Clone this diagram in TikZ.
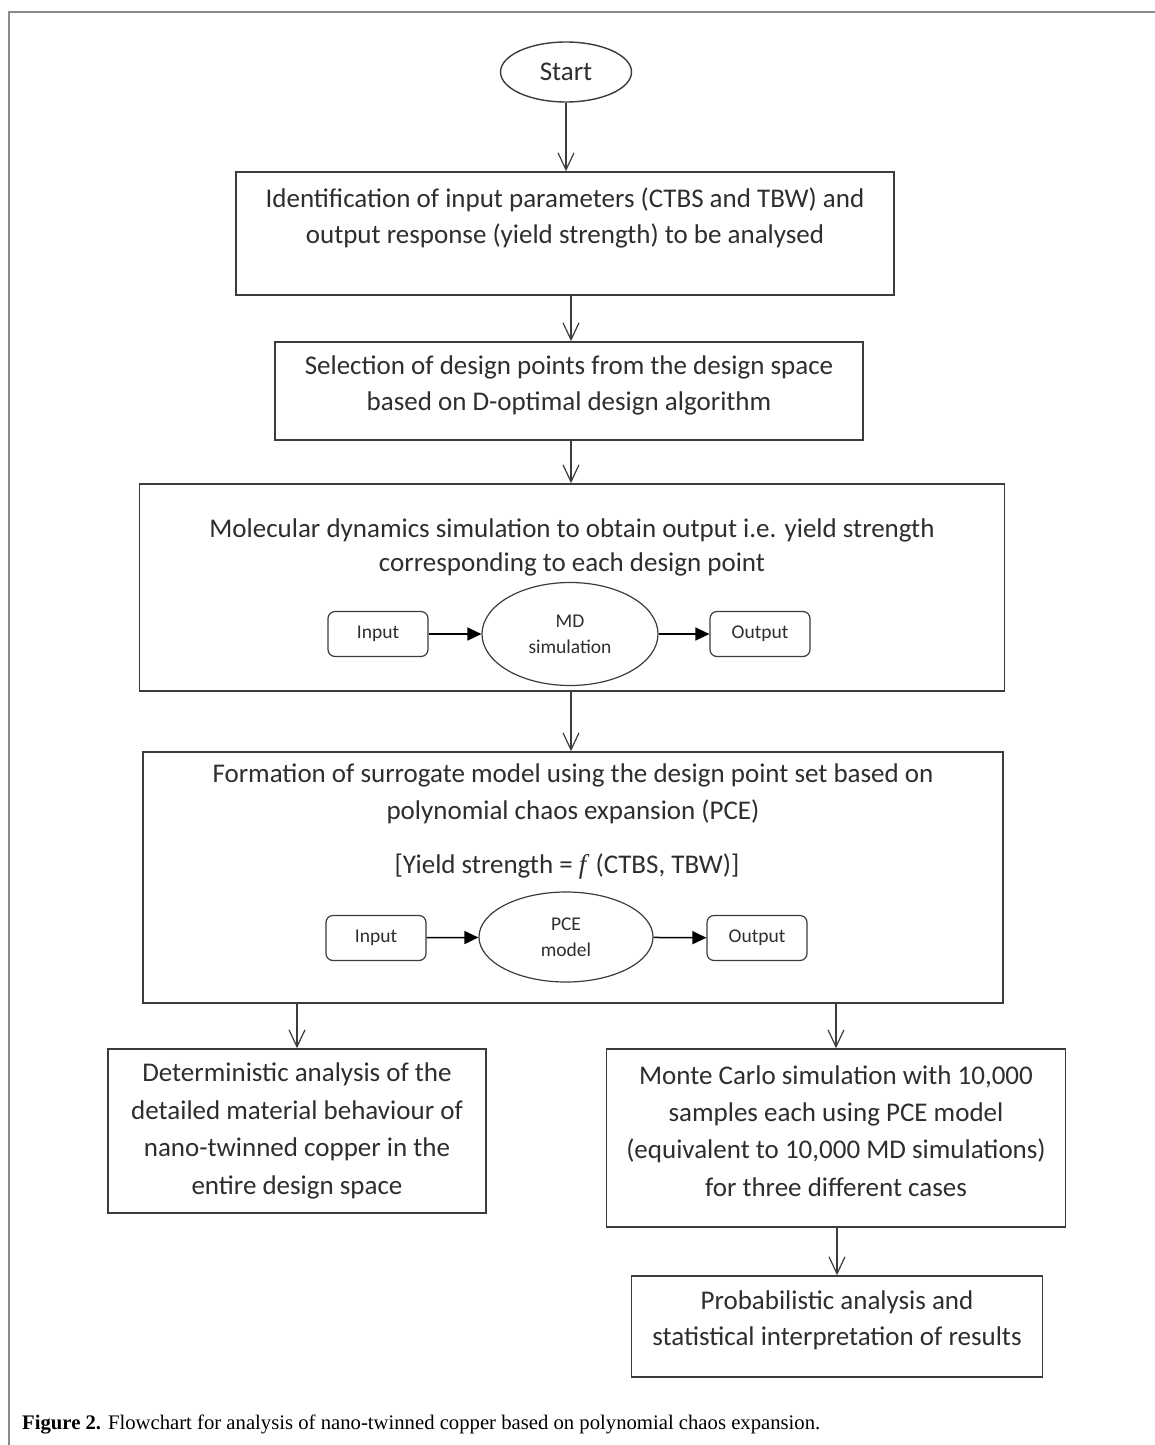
\documentclass[tikz,border=0pt]{standalone}
\usepackage{fontspec}
\setmainfont{Carlito}
\newfontfamily\capfont{Liberation Serif}
\usetikzlibrary{arrows.meta,shapes.geometric}
\definecolor{linec}{HTML}{3C3C3C}
\definecolor{framec}{HTML}{8A8A8A}
\definecolor{txtc}{HTML}{2E2E2E}
\tikzset{
  box/.style={draw=linec, line width=1.6pt, rectangle, inner sep=0pt},
  btext/.style={font=\fontsize{27}{38}\selectfont, text=txtc, align=center, inner sep=0pt},
  smalltxt/.style={font=\fontsize{19.5}{26}\selectfont, text=txtc},
  rbox/.style={draw=linec, line width=1.2pt, rounded corners=7pt, minimum width=100pt, minimum height=45pt, inner sep=0pt, smalltxt},
  oval/.style={draw=linec, line width=1.2pt, ellipse, inner sep=0pt, smalltxt, align=center},
  arr/.style={draw=linec, line width=1.2pt, -{Straight Barb[length=17pt,width=16pt,line width=1.2pt]}},
  iarr/.style={draw=black, line width=1.5pt, -{Triangle[length=14pt,width=13pt]}},
}
\begin{document}
\begin{tikzpicture}[x=1pt,y=-1pt]
\useasboundingbox (0,0) rectangle (1155,1445);
\clip (0,0) rectangle (1155,1445);
\fill[white] (0,0) rectangle (1155,1445);
% frame
\draw[framec, line width=2pt] (9,1460) -- (9,12) -- (1170,12);

% start
\node[draw=linec, line width=1.4pt, ellipse, minimum width=131pt, minimum height=60pt, inner sep=0pt, font=\fontsize{27}{30}\selectfont, text=txtc] (start) at (566,72) {Start};
\coordinate (col) at (571,0);

% box 1
\node[box, minimum width=658pt, minimum height=123pt] (b1) at (565,233.5) {};
\node[btext, font=\fontsize{27}{36}\selectfont] (t1) at (565,218) {Identification of input parameters (CTBS and TBW) and\\output response (yield strength) to be analysed};

% box 2
\node[box, minimum width=588pt, minimum height=98pt] (b2) at (569,391) {};
\node[btext, font=\fontsize{27}{36}\selectfont] (t2) at (569,385) {Selection of design points from the design space\\based on D-optimal design algorithm};

% box 3
\node[box, minimum width=865pt, minimum height=207pt] (b3) at (572,587.5) {};
\node[btext, font=\fontsize{27}{34}\selectfont] (t3) at (572,547) {Molecular dynamics simulation to obtain output i.e. yield strength\\corresponding to each design point};
\node[rbox] (in1) at (378,634) {Input};
\node[oval, minimum width=176pt, minimum height=103pt] (md) at (570,634) {MD\\simulation};
\node[rbox] (out1) at (760,634) {Output};
\draw[iarr] (in1) -- (md);
\draw[iarr] (md) -- (out1);

% box 4
\node[box, minimum width=860pt, minimum height=251pt] (b4) at (573,877.5) {};
\node[btext, font=\fontsize{27}{37}\selectfont] (t4) at (573,794) {Formation of surrogate model using the design point set based on\\polynomial chaos expansion (PCE)};
\node[btext] (t4b) at (567,866) {[Yield strength = {\capfont\itshape f\/} (CTBS, TBW)]};
\node[rbox] (in2) at (376,938) {Input};
\node[oval, minimum width=174pt, minimum height=90pt] (pce) at (566,937) {PCE\\model};
\node[rbox] (out2) at (757,938) {Output};
\draw[iarr] (in2) -- (pce);
\draw[iarr] (pce) -- (out2);

% box 5
\node[box, minimum width=378pt, minimum height=164pt] (b5) at (297,1131) {};
\node[btext, font=\fontsize{27}{37.7}\selectfont] (t5) at (297,1131) {Deterministic analysis of the\\detailed material behaviour of\\nano-twinned copper in the\\entire design space};

% box 6
\node[box, minimum width=459pt, minimum height=178pt] (b6) at (836,1138) {};
\node[btext, font=\fontsize{27}{37.3}\selectfont] (t6) at (836,1131) {Monte Carlo simulation with 10,000\\samples each using PCE model\\(equivalent to 10,000 MD simulations)\\for three different cases};

% box 7
\node[box, minimum width=411pt, minimum height=101pt] (b7) at (837,1326.5) {};
\node[btext, font=\fontsize{27}{36}\selectfont] (t7) at (837,1320) {Probabilistic analysis and\\statistical interpretation of results};

% connectors
\draw[arr] (start) -- (start |- b1.north);
\draw[arr] (col |- b1.south) -- (col |- b2.north);
\draw[arr] (col |- b2.south) -- (col |- b3.north);
\draw[arr] (col |- b3.south) -- (col |- b4.north);
\draw[arr] (b5 |- b4.south) -- (b5.north);
\draw[arr] (b6 |- b4.south) -- (b6.north);
\draw[arr] (b7 |- b6.south) -- (b7.north);

% caption
\node[anchor=west, inner sep=0pt, font=\capfont\fontsize{20.7}{24}\selectfont, text=black] (cap) at (22,1424) {\textbf{Figure 2.} Flowchart for analysis of nano-twinned copper based on polynomial chaos expansion.};
\end{tikzpicture}
\end{document}
